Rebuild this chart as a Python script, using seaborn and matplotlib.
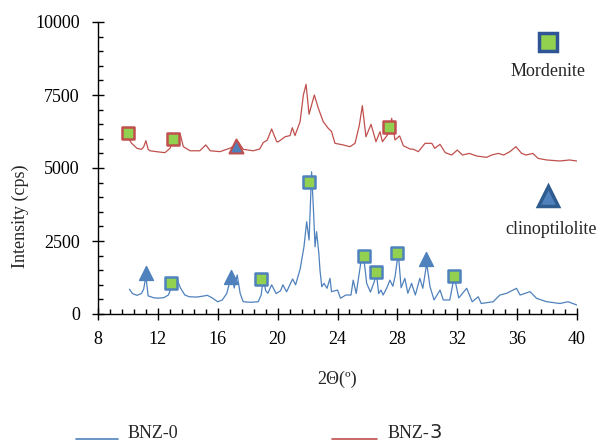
import numpy as np
import pandas as pd
import matplotlib
matplotlib.use("Agg")
import matplotlib.pyplot as plt
from matplotlib.ticker import MultipleLocator, AutoMinorLocator
from matplotlib.lines import Line2D
import seaborn as sns

# ---- data ----
bnz0_theta = [10.1, 10.3, 10.6, 10.9, 11.05, 11.2, 11.35, 11.7, 12.0, 12.4, 12.7, 12.9, 13.05, 13.3,
              13.5, 13.8, 14.1, 14.6, 15.0, 15.3, 15.6, 16.0, 16.3, 16.6, 16.8, 16.95, 17.1, 17.3,
              17.5, 17.7, 18.2, 18.7, 18.9, 19.04, 19.2, 19.35, 19.6, 19.9, 20.2, 20.35, 20.6, 21.0,
              21.2, 21.5, 21.76, 21.94, 22.1, 22.27, 22.4, 22.5, 22.6, 22.75, 22.83, 22.95, 23.1,
              23.3, 23.5, 23.6, 24.0, 24.2, 24.55, 24.9, 25.05, 25.25, 25.55, 25.72, 25.95, 26.2,
              26.45, 26.6, 26.75, 26.9, 27.05, 27.3, 27.5, 27.7, 27.85, 28.06, 28.25, 28.5, 28.7,
              28.95, 29.2, 29.5, 29.7, 29.96, 30.18, 30.45, 30.85, 31.07, 31.5, 31.8, 32.1, 32.63,
              33.0, 33.4, 33.6, 34.4, 34.85, 35.3, 35.96, 36.2, 36.86, 37.3, 37.98, 38.86, 39.4, 39.98]
bnz0_int = [850, 700, 640, 700, 850, 1280, 620, 560, 540, 560, 650, 900, 1050, 1160,
            900, 650, 590, 580, 610, 640, 560, 420, 480, 700, 1100, 1335, 890, 1335,
            700, 420, 400, 420, 650, 1220, 800, 710, 1000, 700, 800, 1000, 760, 1200,
            1000, 1530, 2300, 3160, 2530, 4870, 3500, 2300, 2820, 2100, 1500, 935, 1050,
            880, 1220, 765, 820, 540, 650, 650, 1160, 700, 1735, 2080, 1050, 750,
            1100, 1390, 700, 820, 650, 900, 1160, 950, 1300, 2100, 900, 1220, 710,
            1050, 650, 1220, 880, 1735, 935, 480, 820, 480, 480, 1280, 550, 880,
            420, 590, 360, 420, 650, 710, 880, 650, 765, 535, 420, 360, 420, 310]

bnz3_theta = [10.05, 10.25, 10.6, 10.9, 11.05, 11.2, 11.35, 11.47, 11.9, 12.47, 12.81, 13.0, 13.3,
              13.48, 13.7, 14.15, 14.8, 15.2, 15.5, 16.15, 16.8, 17.1, 17.37, 17.7, 18.37, 18.8,
              19.04, 19.3, 19.6, 19.94, 20.05, 20.5, 20.83, 20.98, 21.16, 21.5, 21.72, 21.9, 22.1,
              22.45, 22.72, 23.05, 23.38, 23.6, 23.83, 24.38, 24.83, 25.17, 25.46, 25.66, 25.9,
              26.24, 26.57, 26.84, 27.0, 27.33, 27.5, 27.62, 27.84, 28.15, 28.4, 28.85, 29.07,
              29.4, 29.85, 30.3, 30.5, 30.85, 31.2, 31.63, 32.0, 32.35, 32.8, 33.3, 33.97, 34.3,
              34.74, 35.1, 35.52, 35.92, 36.3, 36.6, 37.05, 37.4, 37.97, 38.86, 39.5, 39.98]
bnz3_int = [6000, 5845, 5675, 5640, 5720, 5935, 5640, 5590, 5560, 5525, 5675, 5900, 5950,
            6190, 5730, 5590, 5590, 5790, 5590, 5560, 5675, 5750, 5900, 5640, 5590, 5650,
            5870, 5950, 6335, 5900, 5900, 6070, 6110, 6380, 6110, 6585, 7500, 7865, 6840,
            7500, 7045, 6585, 6360, 6250, 5845, 5790, 5730, 5845, 6470, 7135, 6070,
            6495, 5900, 6245, 5900, 6130, 6360, 6700, 5960, 6100, 5760, 5650, 5640,
            5560, 5845, 5845, 5675, 5810, 5525, 5445, 5615, 5445, 5500, 5410, 5365, 5445,
            5500, 5445, 5560, 5730, 5500, 5445, 5500, 5330, 5275, 5240, 5275, 5240]

# phase markers
b0_mord_theta = [12.88, 18.89, 22.1, 25.77, 26.57, 27.99, 31.76]
b0_mord_int = [1070, 1200, 4510, 1985, 1450, 2080, 1300]
b0_clin_theta = [11.2, 16.88, 29.88]
b0_clin_int = [1400, 1280, 1880]
b3_mord_theta = [10.03, 12.99, 27.46]
b3_mord_int = [6190, 5980, 6395]
b3_clin_theta = [17.2]
b3_clin_int = [5750]

series_names = ["BNZ-0", "BNZ-3"]
phase_names = ["Mordenite", "clinoptilolite"]
x_ticks = [8, 12, 16, 20, 24, 28, 32, 36, 40]
y_ticks = [0, 2500, 5000, 7500, 10000]

BLUE = "#4F81BD"
RED = "#C0504D"
GREEN = "#92D050"
DARKBLUE = "#2F5597"
FS = 13

sns.set_style("ticks")
plt.rcParams["font.family"] = ["Liberation Serif", "DejaVu Serif"]
plt.rcParams["font.size"] = FS

fig = plt.figure(figsize=(6.01, 4.41), dpi=100)
ax = fig.add_axes([98 / 601, 1 - 314 / 441, 479 / 601, 292 / 441])

df0 = pd.DataFrame({"theta": bnz0_theta, "I": bnz0_int})
df3 = pd.DataFrame({"theta": bnz3_theta, "I": bnz3_int})
sns.lineplot(data=df0, x="theta", y="I", ax=ax, color=BLUE, lw=0.9, sort=False)
sns.lineplot(data=df3, x="theta", y="I", ax=ax, color=RED, lw=0.9, sort=False)

sq = 8.5 ** 2
tri = 10 ** 2
sns.scatterplot(x=b0_mord_theta, y=b0_mord_int, ax=ax, marker="s", s=sq, color=GREEN,
                edgecolor=BLUE, linewidth=1.8, zorder=5)
sns.scatterplot(x=b3_mord_theta, y=b3_mord_int, ax=ax, marker="s", s=sq, color=GREEN,
                edgecolor=RED, linewidth=1.8, zorder=5)
sns.scatterplot(x=b0_clin_theta, y=b0_clin_int, ax=ax, marker="^", s=tri, color=BLUE,
                edgecolor=BLUE, linewidth=1.0, zorder=5)
sns.scatterplot(x=b3_clin_theta, y=b3_clin_int, ax=ax, marker="^", s=tri, color=BLUE,
                edgecolor=RED, linewidth=1.5, zorder=5)

# phase key on the right
ax.plot([0.9395], [0.9315], transform=ax.transAxes, marker="s", ms=12.5, mfc=GREEN,
        mec=DARKBLUE, mew=2.5, clip_on=False, zorder=6)
ax.text(0.94, 0.83, phase_names[0], transform=ax.transAxes, ha="center", va="center", fontsize=FS)
ax.plot([0.9395], [0.405], transform=ax.transAxes, marker="^", ms=15, mfc=BLUE,
        mec="#2E5C8E", mew=2.5, clip_on=False, zorder=6)
ax.text(0.946, 0.29, phase_names[1], transform=ax.transAxes, ha="center", va="center", fontsize=FS)

ax.set_xlim(8, 40)
ax.set_ylim(0, 10000)
ax.set_xticks(x_ticks)
ax.set_yticks(y_ticks)
ax.xaxis.set_minor_locator(AutoMinorLocator(5))
ax.yaxis.set_minor_locator(MultipleLocator(500))
ax.tick_params(which="major", direction="inout", length=8, width=1, colors="black", labelsize=FS)
ax.tick_params(which="minor", direction="in", length=3.5, width=1, colors="black")
ax.tick_params(axis="y", which="major", pad=9)
ax.tick_params(axis="x", which="major", pad=8)
for s in ["top", "right"]:
    ax.spines[s].set_visible(False)
for s in ["left", "bottom"]:
    ax.spines[s].set_color("black")
    ax.spines[s].set_linewidth(1)

ax.set_xlabel("2Θ(º)", fontsize=FS)
ax.set_ylabel("Intensity (cps)", fontsize=FS)
ax.xaxis.set_label_coords(0.50, -0.223)
ax.yaxis.set_label_coords(-0.163, 0.336)
ax.xaxis.label.set_va("center")
ax.yaxis.label.set_va("center")

# legend at the bottom
fig.add_artist(Line2D([76 / 601, 118 / 601], [1 - 439 / 441] * 2, color=BLUE, lw=1.2))
fig.text(128 / 601, 1 - 438 / 441, series_names[0], fontsize=FS, va="baseline")
fig.add_artist(Line2D([332 / 601, 377 / 601], [1 - 439 / 441] * 2, color=RED, lw=1.2))
head = series_names[1][:-1]
tail = series_names[1][-1]
t1 = fig.text(388 / 601, 1 - 438 / 441, head, fontsize=FS, va="baseline")
fig.canvas.draw()
bb = t1.get_window_extent(renderer=fig.canvas.get_renderer())
fig.text(bb.x1 / fig.bbox.width, 1 - 438 / 441, tail, fontsize=FS + 1, va="baseline",
         family=["DejaVu Sans"])

fig.savefig("out.png", dpi=100)
